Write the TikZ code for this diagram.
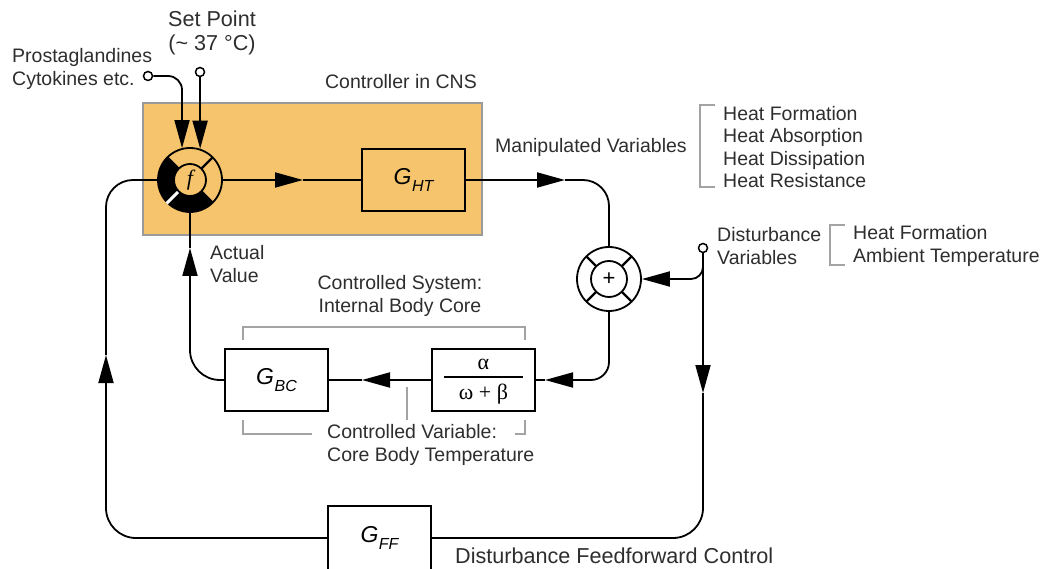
\documentclass[tikz,border=0pt]{standalone}
\usepackage{fontspec}
\setmainfont{Liberation Sans}
\newfontfamily\seriffont{Liberation Serif}
\usetikzlibrary{arrows.meta}
\definecolor{ctrl}{HTML}{F5C46C}
\definecolor{boxedge}{HTML}{9A9A9A}
\definecolor{brk}{HTML}{A3A3A3}
\definecolor{txt}{HTML}{2E2E2E}
\newcommand{\GBlk}[1]{{\fontsize{23}{24}\selectfont\itshape G\kern0.5pt\raisebox{-7pt}{\fontsize{16}{16}\selectfont #1}}}
\begin{document}
\begin{tikzpicture}[x=1pt,y=-1pt,
  wire/.style={line width=1.8pt, black},
  arr/.style={wire, -{Triangle[length=28pt,width=15pt]}},
  blk/.style={draw, line width=1.8pt, minimum width=103pt, minimum height=62pt, inner sep=0pt},
  lbl/.style={font=\fontsize{19.5}{22.5}\selectfont, text=txt, inner sep=0pt},
  biglbl/.style={font=\fontsize{21.6}{24}\selectfont, text=txt, inner sep=0pt},
  brack/.style={draw=brk, line width=1.6pt},
  port/.style={circle, draw, line width=1.5pt, fill=white, minimum size=9pt, inner sep=0pt}
]
\clip (0,0) rectangle (1047,569);
\fill[white] (0,0) rectangle (1047,569);

% controller box
\node[draw=boxedge, fill=ctrl, line width=1.4pt, minimum width=339pt, minimum height=132pt, inner sep=0pt] (cns) at (312.5,169) {};
\node[lbl] (cnslbl) at (401,82) {Controller in CNS};

% blocks
\node[blk] (ght) at (413.5,180) {\GBlk{HT}};
\node[blk] (alpha) at (483.5,380) {{\seriffont\fontsize{22}{22}\selectfont\setlength{\arrayrulewidth}{1.6pt}\begin{tabular}{@{}c@{}}\makebox[79pt]{α}\\\hline\rule{0pt}{21pt}\makebox[79pt]{ω + β}\end{tabular}}};
\node[blk] (gbc) at (276.5,380) {\GBlk{BC}};
\node[blk, minimum height=64pt] (gff) at (379.5,538) {\GBlk{FF}};

% ports
\node[port] (pg) at (148,76) {};
\node[port] (sp) at (200,72) {};
\node[port] (dv) at (703,248) {};

% coordinates for arrow tips
\coordinate (a1) at (303,180);
\coordinate (a2) at (565,180);
\coordinate (a3) at (545,380);
\coordinate (a4) at (362,380);
\coordinate (a5) at (190,248);
\coordinate (a6) at (106,355);
\coordinate (a7) at (703,393);
\coordinate (br) at (703,262);

% f comparator
\node[circle, draw, line width=1.8pt, minimum size=64pt, inner sep=0pt] (f) at (190,180) {};
\fill (190,180) ++(45:32) arc[start angle=45, end angle=225, radius=32] -- ++(45:16) arc[start angle=225, end angle=45, radius=16] -- cycle;
\draw[white, line width=3pt] (190,180) ++(135:15) -- ++(135:18);
\foreach \a in {45,225,315} \draw[line width=2.4pt] (190,180) ++(\a:16) -- ++(\a:16);
\node[circle, draw, line width=1.8pt, minimum size=32pt, inner sep=0pt, fill=ctrl] (fc) at (f) {\fontsize{22}{22}\selectfont\seriffont\itshape f};

% summing point
\node[circle, draw, line width=1.8pt, minimum size=64pt, fill=white, inner sep=0pt] (sum) at (609,279) {};
\foreach \a in {45,135,225,315} \draw[line width=2.4pt] (609,279) ++(\a:18) -- ++(\a:14);
\node[circle, draw, line width=1.8pt, minimum size=36pt, inner sep=0pt] (sumin) at (sum) {\fontsize{22}{22}\selectfont +};

% connectors
\draw[arr, rounded corners=14pt] (pg.east) -| (f.104);
\draw[arr] (sp.south) -- (f.72);
\draw[arr] (f.east) -- (a1);
\draw[wire] (a1) -- (ght.west);
\draw[arr] (ght.east) -- (a2);
\draw[wire, rounded corners=26pt] (a2) -| (sum.north);
\draw[arr, rounded corners=18pt] (sum.south) |- (a3);
\draw[wire] (a3) -- (alpha.east);
\draw[arr] (alpha.west) -- (a4);
\draw[wire] (a4) -- (gbc.east);
\draw[arr, rounded corners=30pt] (gbc.west) -| (a5);
\draw[wire] (a5) -- (f.south);
\draw[arr, rounded corners=30pt] (gff.west) -| (a6);
\draw[wire, rounded corners=27pt] (a6) |- (f.west);
\draw[arr] (dv.south) -- (a7);
\draw[wire, rounded corners=30pt] (a7) |- (gff.east);
\draw[arr, rounded corners=12pt] (br) |- (sum.east);

% brackets
\draw[brack] (243,340) -- (243,327) -- (525,327) -- (525,340);
\draw[brack] (243,420) -- (243,434) -- (312,434);
\draw[brack] (515,434) -- (525,434) -- (525,420);
\draw[brack] (407,387) -- (407,420);
\draw[brack] (715,105) -- (700,105) -- (700,187) -- (715,187);
\draw[brack] (845,225) -- (830,225) -- (830,265) -- (845,265);

% labels
\node[biglbl, align=center] (setpt) at (212,33) {Set Point\\(\textasciitilde{} 37 °C)};
\node[lbl, align=left, anchor=west] (pglbl) at (12,69) {Prostaglandines\\Cytokines etc.};
\node[lbl, anchor=west] (mv) at (495,147) {Manipulated Variables};
\node[lbl, align=left, anchor=west] (heat) at (723,147) {Heat Formation\\Heat Absorption\\Heat Dissipation\\Heat Resistance};
\node[lbl, align=left, anchor=west] (dvlbl) at (717,246) {Disturbance\\Variables};
\node[lbl, align=left, anchor=west] (dvlist) at (853,246) {Heat Formation\\Ambient Temperature};
\node[lbl, align=left, anchor=west] (act) at (210,264) {Actual\\Value};
\node[lbl, align=center] (cs) at (400,296) {Controlled System:\\Internal Body Core};
\node[lbl, align=left, anchor=west] (cv) at (327,445) {Controlled Variable:\\Core Body Temperature};
\node[biglbl, anchor=west] (ffc) at (455,556) {Disturbance Feedforward Control};
\end{tikzpicture}
\end{document}
